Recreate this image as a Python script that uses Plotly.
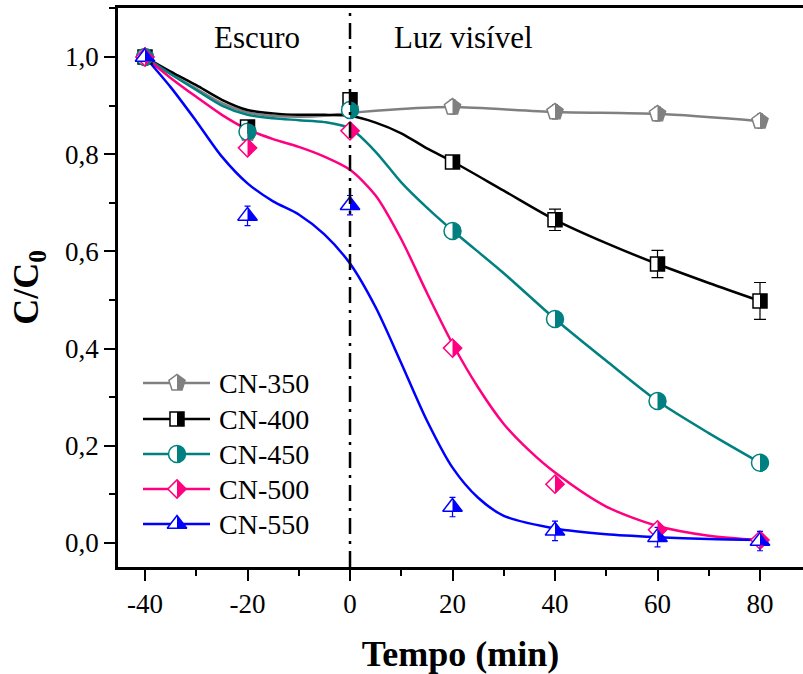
import math
import plotly.graph_objects as go

# ---------------- data ----------------
time_min = [-40, -20, 0, 20, 40, 60, 80]

cn350 = [1.000, 0.843, 0.893, 0.897, 0.887, 0.883, 0.868]
cn400 = [1.000, 0.856, 0.912, 0.784, 0.665, 0.574, 0.498]
cn450 = [1.000, 0.846, 0.891, 0.642, 0.461, 0.292, 0.165]
cn500 = [1.000, 0.813, 0.848, 0.401, 0.121, 0.027, 0.006]
cn550 = [1.000, 0.673, 0.695, 0.074, 0.025, 0.012, 0.004]

err_cn350 = [0.0, 0.012, 0.012, 0.015, 0.015, 0.015, 0.015]
err_cn400 = [0.0, 0.008, 0.008, 0.006, 0.022, 0.028, 0.038]
err_cn550 = [0.0, 0.02, 0.02, 0.02, 0.02, 0.02, 0.02]

# fitted curves
fit_x_350 = [-40, -35, -30, -25, -20, -15, -10, -5, 0, 10, 20, 40, 60, 80]
fit_y_350 = [1.0, 0.965, 0.935, 0.905, 0.886, 0.879, 0.877, 0.879, 0.885, 0.893, 0.897, 0.887, 0.883, 0.868]

fit_x_400 = [-40, -35, -30, -25, -20, -15, -10, -5, 0, 5, 10, 15, 20, 30, 40, 50, 60, 70, 80]
fit_y_400 = [1.0, 0.970, 0.942, 0.912, 0.891, 0.884, 0.881, 0.881, 0.879, 0.865, 0.843, 0.812, 0.785, 0.725, 0.665, 0.617, 0.574, 0.535, 0.498]

fit_x_450 = [-40, -35, -30, -25, -20, -15, -10, -5, 0, 5, 10, 15, 20, 30, 40, 50, 60, 70, 80]
fit_y_450 = [1.0, 0.965, 0.932, 0.900, 0.881, 0.874, 0.870, 0.866, 0.853, 0.805, 0.742, 0.690, 0.643, 0.555, 0.461, 0.375, 0.292, 0.226, 0.165]

fit_x_500 = [-40, -35, -30, -25, -20, -15, -10, -5, 0, 5, 10, 15, 20, 25, 30, 35, 40, 50, 60, 70, 80]
fit_y_500 = [1.0, 0.957, 0.918, 0.881, 0.851, 0.831, 0.815, 0.795, 0.768, 0.715, 0.625, 0.515, 0.410, 0.320, 0.245, 0.190, 0.145, 0.075, 0.035, 0.015, 0.006]

fit_x_550 = [-40, -35, -30, -25, -20, -15, -10, -5, 0, 5, 10, 15, 20, 25, 30, 40, 50, 60, 70, 80]
fit_y_550 = [1.0, 0.938, 0.868, 0.795, 0.740, 0.703, 0.676, 0.635, 0.575, 0.485, 0.370, 0.252, 0.155, 0.093, 0.056, 0.030, 0.018, 0.012, 0.008, 0.006]

series_names = ["CN-350", "CN-400", "CN-450", "CN-500", "CN-550"]
x_tick_vals = [-40, -20, 0, 20, 40, 60, 80]
x_tick_labels = ["-40", "-20", "0", "20", "40", "60", "80"]
y_tick_vals = [0.0, 0.2, 0.4, 0.6, 0.8, 1.0]
y_tick_labels = ["0,0", "0,2", "0,4", "0,6", "0,8", "1,0"]

# ---------------- styles ----------------
colors = ["#808080", "#000000", "#008080", "#FF0080", "#0000FF"]
symbols = ["pentagon", "square", "circle", "diamond", "triangle-up"]
sizes = [17, 14, 17, 14, 17]
values = [cn350, cn400, cn450, cn500, cn550]
errors = [err_cn350, err_cn400, None, None, err_cn550]
err_caps = [3, 6, 0, 0, 3]
fits = [(fit_x_350, fit_y_350), (fit_x_400, fit_y_400), (fit_x_450, fit_y_450),
        (fit_x_500, fit_y_500), (fit_x_550, fit_y_550)]

SERIF = "Liberation Serif"


def half_path(symbol, size):
    r = size / 2.0
    if symbol == "square":
        return f"M0,{r} L{r},{r} L{r},{-r} L0,{-r} Z"
    if symbol == "circle":
        k = 0.5523 * r
        return f"M0,{r} C{k},{r} {r},{k} {r},0 C{r},{-k} {k},{-r} 0,{-r} Z"
    if symbol == "diamond":
        rd = 1.3 * r
        return f"M0,{rd} L{rd},0 L0,{-rd} Z"
    if symbol == "triangle-up":
        rt = r * 2 / math.sqrt(3)
        return f"M0,{r} L{rt},{-r/2} L0,{-r/2} Z"
    if symbol == "pentagon":
        return (f"M0,{r} L{0.951*r},{0.309*r} L{0.588*r},{-0.809*r} "
                f"L0,{-0.809*r} Z")
    return ""


fig = go.Figure()
shapes = []

# fitted curves
for i in range(5):
    fx, fy = fits[i]
    fig.add_trace(go.Scatter(
        x=fx, y=fy, mode="lines", showlegend=False, hoverinfo="skip",
        line=dict(color=colors[i], width=2.5, shape="spline", smoothing=0.8)))

# markers
for i in range(5):
    err = None
    if errors[i] is not None:
        err = dict(type="data", array=errors[i], visible=True, color=colors[i],
                   thickness=1.2, width=err_caps[i])
    fig.add_trace(go.Scatter(
        x=time_min, y=values[i], mode="markers", showlegend=False,
        name=series_names[i], error_y=err,
        marker=dict(symbol=symbols[i], size=sizes[i], color="white",
                    line=dict(color=colors[i], width=1.5))))
    for xv, yv in zip(time_min, values[i]):
        shapes.append(dict(
            type="path", xref="x", yref="y", xsizemode="pixel", ysizemode="pixel",
            xanchor=xv, yanchor=yv, path=half_path(symbols[i], sizes[i]),
            fillcolor=colors[i], line=dict(width=0), layer="above"))

# vertical dash-dot separator at t = 0
shapes.append(dict(type="line", xref="x", yref="paper", x0=0, x1=0, y0=0, y1=1,
                   line=dict(color="black", width=2.5, dash="16px,7px,3px,7px"),
                   layer="above"))

# ---------------- manual legend on a hidden pixel-like axis ----------------
legend_rows = [383, 419, 454, 489, 524]
leg_x0, leg_x1, leg_xm, leg_text_x = 143, 210, 177, 217
annotations = []
for i in range(5):
    ry = legend_rows[i]
    fig.add_trace(go.Scatter(
        x=[leg_x0, leg_x1], y=[ry, ry], xaxis="x2", yaxis="y2", mode="lines",
        showlegend=False, hoverinfo="skip",
        line=dict(color=colors[i], width=2.5)))
    fig.add_trace(go.Scatter(
        x=[leg_xm], y=[ry], xaxis="x2", yaxis="y2", mode="markers",
        showlegend=False, hoverinfo="skip",
        marker=dict(symbol=symbols[i], size=sizes[i], color="white",
                    line=dict(color=colors[i], width=1.5))))
    shapes.append(dict(
        type="path", xref="x2", yref="y2", xsizemode="pixel", ysizemode="pixel",
        xanchor=leg_xm, yanchor=ry, path=half_path(symbols[i], sizes[i]),
        fillcolor=colors[i], line=dict(width=0), layer="above"))
    annotations.append(dict(
        x=leg_text_x, y=ry, xref="x2", yref="y2", text=series_names[i],
        showarrow=False, xanchor="left", yanchor="middle",
        font=dict(family=SERIF, size=28, color="black")))

annotations.append(dict(x=-18.1, y=1.041, xref="x", yref="y", text="Escuro",
                        showarrow=False, xanchor="center", yanchor="middle",
                        font=dict(family=SERIF, size=31, color="black")))
annotations.append(dict(x=22.2, y=1.041, xref="x", yref="y", text="Luz visível",
                        showarrow=False, xanchor="center", yanchor="middle",
                        font=dict(family=SERIF, size=31, color="black")))

fig.update_layout(
    width=803, height=674,
    margin=dict(l=118, r=0, t=8, b=107),
    paper_bgcolor="white", plot_bgcolor="white",
    showlegend=False,
    shapes=shapes, annotations=annotations,
    font=dict(family=SERIF, color="black"),
    xaxis=dict(
        range=[-45.27, 88.39], showgrid=False, zeroline=False,
        showline=True, linecolor="black", linewidth=2.5, mirror=True,
        ticks="outside", ticklen=11, tickwidth=2, tickcolor="black",
        tickvals=x_tick_vals, ticktext=x_tick_labels,
        tickfont=dict(family=SERIF, size=27, color="black"),
        minor=dict(ticks="outside", ticklen=6, tickwidth=2, dtick=10,
                   tick0=0, tickcolor="black", showgrid=False),
        title=dict(text="Tempo (min)", standoff=26,
                   font=dict(family=SERIF, size=36, color="black", weight="bold")),
    ),
    yaxis=dict(
        range=[-0.0494, 1.1008], showgrid=False, zeroline=False,
        showline=True, linecolor="black", linewidth=2.5, mirror=False,
        ticks="outside", ticklen=11, tickwidth=2, tickcolor="black",
        tickvals=y_tick_vals, ticktext=y_tick_labels,
        tickfont=dict(family=SERIF, size=27, color="black"),
        minor=dict(ticks="outside", ticklen=6, tickwidth=2, dtick=0.1,
                   tick0=0, tickcolor="black", showgrid=False),
        title=dict(text="C/C<sub>0</sub>", standoff=16,
                   font=dict(family=SERIF, size=36, color="black", weight="bold")),
    ),
    xaxis2=dict(overlaying="x", range=[118, 803], visible=False, fixedrange=True),
    yaxis2=dict(overlaying="y", range=[567, 8], visible=False, fixedrange=True),
)

fig.write_html("out.html")
